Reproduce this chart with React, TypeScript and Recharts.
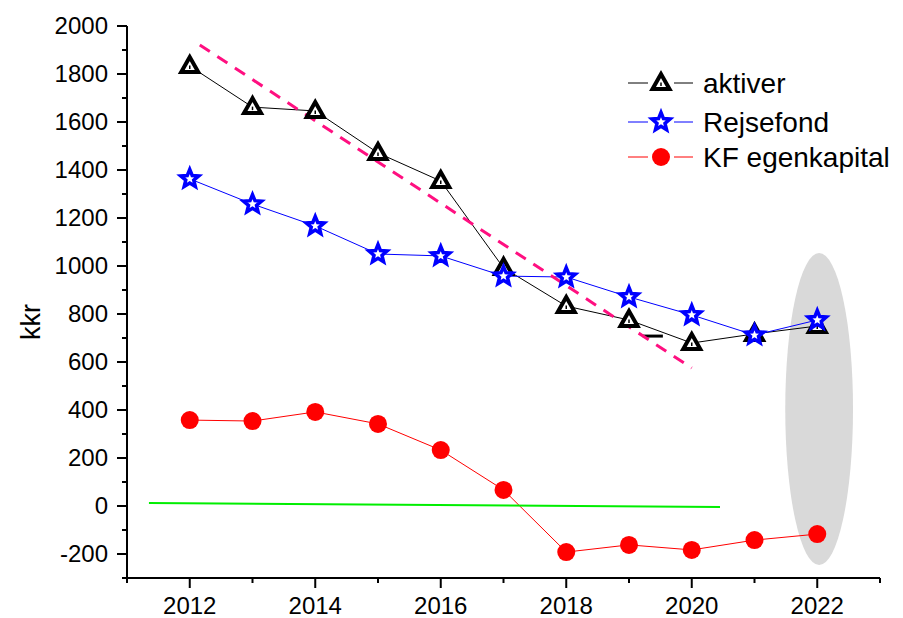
import React from 'react';
import { LineChart, Line, XAxis, YAxis, ReferenceArea, Legend } from 'recharts';

const years = [2012, 2013, 2014, 2015, 2016, 2017, 2018, 2019, 2020, 2021, 2022];
const aktiver = [1833, 1662, 1646, 1471, 1354, 992, 833, 775, 679, 717, 750];
const rejsefond = [1363, 1258, 1167, 1050, 1042, 958, 954, 871, 796, 712, 775];
const kfEgenkapital = [358, 354, 392, 342, 233, 67, -192, -162, -183, -142, -117];

const trendYears = [2012.16, 2020];
const trendValues = [1921, 575];
const zeroYears = [2011.35, 2020.45];
const zeroValues = [12, -4];
const strayYears = [2019.22, 2019.54];
const strayValues = [708, 708];

const ellipseYears = [2021.49, 2022.57];
const ellipseValues = [-246, 1054];

const xTicks = [2011, 2012, 2013, 2014, 2015, 2016, 2017, 2018, 2019, 2020, 2021, 2022, 2023];
const yTicks = [-300, -200, -100, 0, 100, 200, 300, 400, 500, 600, 700, 800, 900, 1000, 1100, 1200, 1300, 1400, 1500, 1600, 1700, 1800, 1900, 2000];
const seriesNames = ['aktiver', 'Rejsefond', 'KF egenkapital'];

const FONT = "'Liberation Sans', Arial, sans-serif";

const mainData = years.map((y, i) => ({
  year: y,
  aktiver: aktiver[i],
  rejsefond: rejsefond[i],
  kf: kfEgenkapital[i],
}));
const trendData = trendYears.map((y, i) => ({ year: y, value: trendValues[i] }));
const zeroData = zeroYears.map((y, i) => ({ year: y, value: zeroValues[i] }));
const strayData = strayYears.map((y, i) => ({ year: y, value: strayValues[i] }));

function trianglePts(cx: number, cy: number) {
  return `${cx},${cy - 9} ${cx - 8.5},${cy + 6} ${cx + 8.5},${cy + 6}`;
}
function starPts(cx: number, cy: number) {
  const pts: string[] = [];
  for (let i = 0; i < 10; i++) {
    const r = i % 2 === 0 ? 9.5 : 4.2;
    const a = -Math.PI / 2 + (i * Math.PI) / 5;
    pts.push(`${cx + r * Math.cos(a)},${cy + r * Math.sin(a)}`);
  }
  return pts.join(' ');
}

const TriangleMark = ({ cx, cy }: { cx: number; cy: number }) => (
  <g>
    <polygon points={trianglePts(cx, cy)} fill="#fff" stroke="#000" strokeWidth={4} strokeLinejoin="miter" />
    <line x1={cx} y1={cy - 0.5} x2={cx} y2={cy + 3} stroke="#000" strokeWidth={1.5} />
  </g>
);
const StarMark = ({ cx, cy }: { cx: number; cy: number }) => (
  <polygon points={starPts(cx, cy)} fill="#fff" stroke="#0000ff" strokeWidth={3.5} strokeLinejoin="miter" />
);
const CircleMark = ({ cx, cy }: { cx: number; cy: number }) => <circle cx={cx} cy={cy} r={9} fill="#ff0000" />;

const triangleDot = (p: any) =>
  p.cx == null ? <g key={p.index} /> : <g key={`t${p.index}`}><TriangleMark cx={p.cx} cy={p.cy} /></g>;
const starDot = (p: any) =>
  p.cx == null ? <g key={p.index} /> : <g key={`s${p.index}`}><StarMark cx={p.cx} cy={p.cy} /></g>;
const circleDot = (p: any) =>
  p.cx == null ? <g key={p.index} /> : <g key={`c${p.index}`}><CircleMark cx={p.cx} cy={p.cy} /></g>;

const YTick = (p: any) => {
  const { x, y, payload } = p;
  const v = payload.value as number;
  const major = v % 200 === 0;
  return (
    <g>
      <line x1={x} y1={y} x2={x - (major ? 10 : 5)} y2={y} stroke="#000" strokeWidth={2} />
      {major && (
        <text x={x - 19} y={y + 8} textAnchor="end" fontSize={24} fontFamily={FONT} fill="#000">
          {v}
        </text>
      )}
    </g>
  );
};

const XTick = (p: any) => {
  const { x, y, payload } = p;
  const v = payload.value as number;
  const major = v % 2 === 0;
  return (
    <g>
      <line x1={x} y1={y} x2={x} y2={y + (major ? 10 : 5)} stroke="#000" strokeWidth={2} />
      {major && (
        <text x={x} y={y + 36} textAnchor="middle" fontSize={24} fontFamily={FONT} fill="#000">
          {v}
        </text>
      )}
    </g>
  );
};

const EllipseShape = (p: any) => {
  const { x, y, width, height } = p;
  return <ellipse cx={x + width / 2} cy={y + height / 2} rx={width / 2} ry={height / 2} fill="#d9d9d9" />;
};

const renderLegend = () => {
  const rows = [
    { name: seriesNames[0], color: '#000', mark: 't' },
    { name: seriesNames[1], color: '#0000ff', mark: 's' },
    { name: seriesNames[2], color: '#ff0000', mark: 'c' },
  ];
  const cys = [21, 60, 95];
  return (
    <svg width={300} height={120} style={{ overflow: 'visible' }}>
      {rows.map((r, i) => {
        const cy = cys[i];
        return (
          <g key={r.name}>
            <line x1={8} y1={cy} x2={28} y2={cy} stroke={r.color} strokeWidth={1} />
            <line x1={54} y1={cy} x2={73} y2={cy} stroke={r.color} strokeWidth={1} />
            {r.mark === 't' && <TriangleMark cx={41} cy={cy} />}
            {r.mark === 's' && <StarMark cx={41} cy={cy} />}
            {r.mark === 'c' && <CircleMark cx={41} cy={cy} />}
            <text x={83} y={cy + 10} fontSize={28} fontFamily={FONT} fill="#000">
              {r.name}
            </text>
          </g>
        );
      })}
    </svg>
  );
};

const YLabel = (p: any) => {
  const vb = p.viewBox || { x: 0, y: 0, width: 0, height: 0 };
  const cx = 31;
  const cy = vb.y + vb.height / 2 + 20;
  return (
    <text x={cx} y={cy} transform={`rotate(-90 ${cx} ${cy})`} textAnchor="middle" dominantBaseline="central" fontSize={27} fontFamily={FONT} fill="#000">
      kkr
    </text>
  );
};

export default function App() {
  return (
    <div style={{ position: 'absolute', left: 0, top: 0, width: 903, height: 618, background: '#fff' }}>
      <LineChart width={903} height={618} data={mainData} margin={{ top: 26, right: 23, bottom: 0, left: 0 }}>
        <ReferenceArea
          x1={ellipseYears[0]}
          x2={ellipseYears[1]}
          y1={ellipseValues[0]}
          y2={ellipseValues[1]}
          shape={EllipseShape}
          ifOverflow="visible"
        />
        <XAxis
          dataKey="year"
          type="number"
          domain={[2011, 2023]}
          ticks={xTicks}
          interval={0}
          height={40}
          tickSize={0}
          tickMargin={0}
          tick={XTick}
          axisLine={{ stroke: '#000', strokeWidth: 2 }}
          tickLine={false}
          allowDataOverflow
        />
        <YAxis
          type="number"
          domain={[-300, 2000]}
          ticks={yTicks}
          interval={0}
          width={127}
          tickSize={0}
          tickMargin={0}
          tick={YTick}
          axisLine={{ stroke: '#000', strokeWidth: 2 }}
          tickLine={false}
          allowDataOverflow
          label={<YLabel />}
        />
        <Line dataKey="aktiver" name={seriesNames[0]} stroke="#000" strokeWidth={1} dot={triangleDot} activeDot={false} isAnimationActive={false} />
        <Line data={strayData} dataKey="value" stroke="#000" strokeWidth={3} dot={false} activeDot={false} isAnimationActive={false} legendType="none" />
        <Line dataKey="rejsefond" name={seriesNames[1]} stroke="#0000ff" strokeWidth={1} dot={starDot} activeDot={false} isAnimationActive={false} />
        <Line dataKey="kf" name={seriesNames[2]} stroke="#ff0000" strokeWidth={1} dot={circleDot} activeDot={false} isAnimationActive={false} />
        <Line data={zeroData} dataKey="value" stroke="#00ee00" strokeWidth={2} dot={false} activeDot={false} isAnimationActive={false} legendType="none" />
        <Line data={trendData} dataKey="value" stroke="#ff0f80" strokeWidth={3} strokeDasharray="12 9" dot={false} activeDot={false} isAnimationActive={false} legendType="none" />
        <Legend
          layout="horizontal"
          verticalAlign="middle"
          align="center"
          content={renderLegend}
          wrapperStyle={{ position: 'absolute', left: 620, top: 62, width: 300, height: 120 }}
        />
      </LineChart>
    </div>
  );
}
